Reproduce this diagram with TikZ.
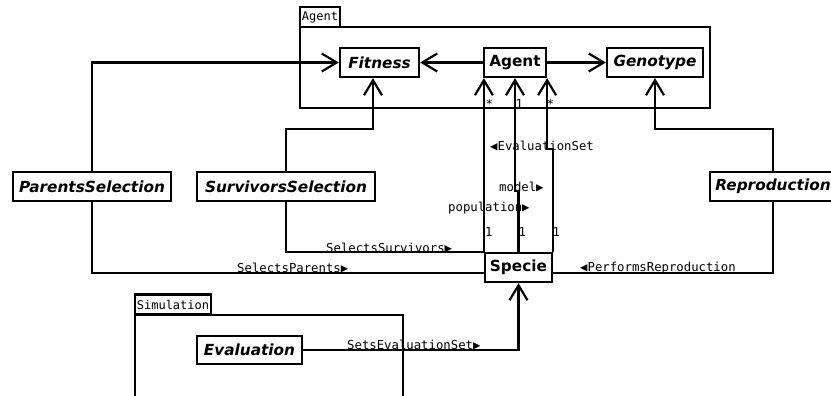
\documentclass[tikz,border=0pt]{standalone}
\usepackage{fontspec}
\setmainfont{DejaVu Sans}
\newfontfamily\lblmono{DejaVu Sans Mono}
\usetikzlibrary{arrows.meta,calc}
\begin{document}
\begin{tikzpicture}[x=1pt,y=-1pt,
  cls/.style={draw,line width=2.2pt,inner sep=0pt,minimum height=29pt,fill=white,
    font=\fontsize{15.3}{18}\selectfont\bfseries\itshape},
  clsup/.style={cls,font=\fontsize{15.3}{18}\selectfont\bfseries},
  con/.style={line width=2.2pt},
  arr/.style={con,-{Straight Barb[length=15pt,width=18pt,line width=2.2pt]}},
  frame/.style={draw,line width=2.2pt},
  tab/.style={draw,line width=2.2pt,inner sep=0pt,minimum height=20pt,
    font=\lblmono\fontsize{12}{14}\selectfont},
  lbl/.style={inner sep=0pt,anchor=west,font=\lblmono\fontsize{12.3}{14}\selectfont},
]
\useasboundingbox (0,0) rectangle (831,396);
\begin{scope}
\clip (0,0) rectangle (831,396);
% packages
\draw[frame] (300,27) rectangle (710,108);
\node[tab,minimum width=40pt] (agentTab) at (320,17) {Agent};
\draw[frame] (135,315) rectangle (403,420);
\node[tab,minimum width=76pt] (simTab) at (173,304.5) {Simulation};
% classes
\node[cls,minimum width=79pt] (Fitness) at (379.5,62.5) {Fitness};
\node[clsup,minimum width=62pt] (Agent) at (515,62.5) {Agent};
\node[cls,minimum width=96pt] (Genotype) at (655,62.5) {Genotype};
\node[cls,minimum width=158pt] (PS) at (92,186.5) {ParentsSelection};
\node[cls,minimum width=178pt] (SS) at (286,186.5) {SurvivorsSelection};
\node[cls,minimum width=126pt] (Rep) at (773,186.5) {Reproduction};
\node[clsup,minimum width=67pt] (Specie) at (518.5,267.5) {Specie};
\node[cls,minimum width=105pt,minimum height=28pt] (Eval) at (249.5,350) {Evaluation};
% connectors
\draw[arr] (Agent.west) -- (Fitness.east);
\draw[arr] (Agent.east) -- (Genotype.west);
\draw[arr] (PS.north) |- (Fitness.west);
\draw[arr] (SS.north) -- ++(0,-42) -| ([xshift=-6.5pt]Fitness.south);
\draw[arr] (Rep.north) -- ++(0,-42) -| (Genotype.south);
\draw[con] (PS.south) |- ($(Specie.west)+(0,5.5)$);
\draw[con] (SS.south) |- (Specie.north west);
\draw[con] (Rep.south) |- ($(Specie.east)+(0,5.5)$);
\draw[arr] (Eval.east) -| (Specie.south);
\draw[arr] (Specie.north west) -- (Specie.north west |- Agent.south);
\draw[arr] (Specie.north) -- ++(0,-61) -| (Agent.south);
\draw[arr] (Specie.north east) -- ++(0,-103) -| (Agent.south east);
% labels
\node[lbl] (m1) at (485.5,104) {*};
\node[lbl] (m2) at (515.5,104) {1};
\node[lbl] (m3) at (546.5,104) {*};
\node[lbl] (m4) at (485,232) {1};
\node[lbl] (m5) at (518.5,232) {1};
\node[lbl] (m6) at (552.5,232) {1};
\node[lbl] (lEval) at (490,146) {◀EvaluationSet};
\node[lbl] (lModel) at (499,187.5) {model▶};
\node[lbl] (lPop) at (448,208) {population▶};
\node[lbl] (lSS) at (326,248) {SelectsSurvivors▶};
\node[lbl] (lSP) at (237,268.5) {SelectsParents▶};
\node[lbl] (lPR) at (580,268.5) {◀PerformsReproduction};
\node[lbl] (lSE) at (347,345.5) {SetsEvaluationSet▶};
\end{scope}
\end{tikzpicture}
\end{document}
